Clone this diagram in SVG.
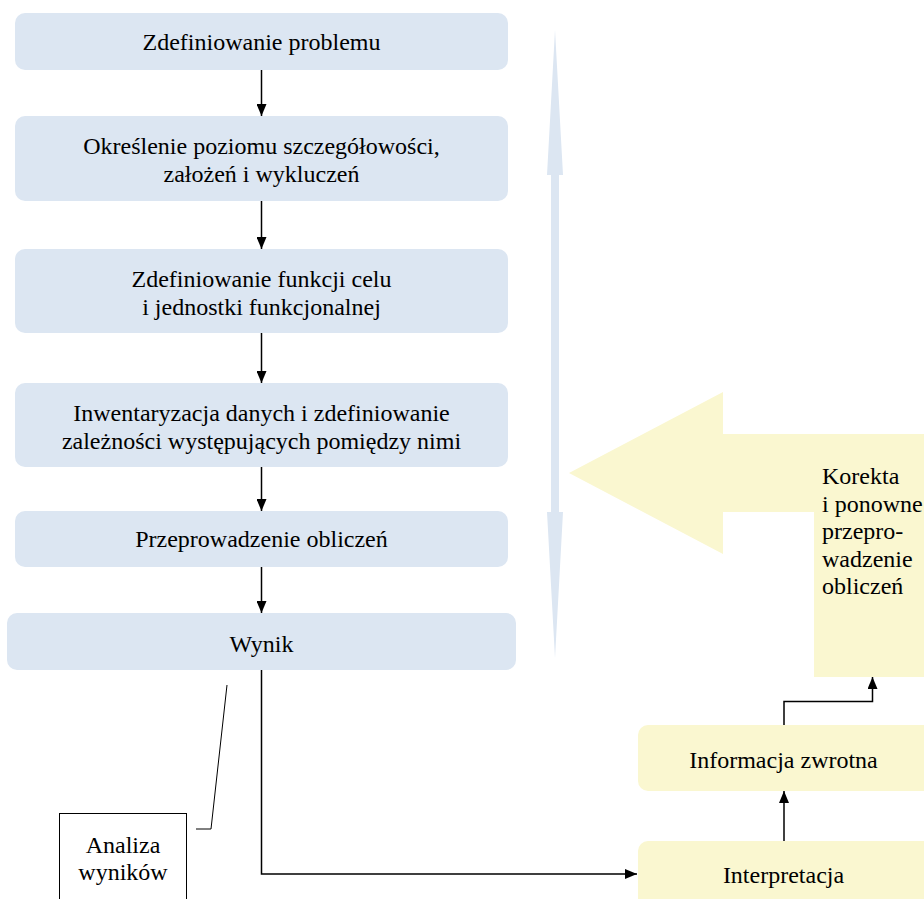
<svg xmlns="http://www.w3.org/2000/svg" width="924" height="899" viewBox="0 0 924 899">
  <style>
    .step { fill: #DCE6F2; }
    .note { fill: #FAF7D0; }
    .wire { fill: none; stroke: #000; stroke-width: 1.5; }
  </style>
  <defs>
    <marker id="head" viewBox="0 0 12 10" refX="12" refY="5" markerWidth="12" markerHeight="10" markerUnits="userSpaceOnUse" orient="auto">
      <path d="M0,0 L12,5 L0,10 Z" fill="#000"/>
    </marker>
  </defs>
  <rect width="924" height="899" fill="#fff"/>

  <g font-family="'Liberation Serif', 'Times New Roman', serif" font-size="24" fill="#000">
    <!-- iteration arrow (double-headed, light blue) -->
    <g id="iteration">
      <polygon class="step" points="555,30 563,175 559,175 559,512 563,512 555,658 547,512 551,512 551,175 547,175"/>
    </g>

    <!-- correction arrow -->
    <g id="correction">
      <polygon class="note" points="569,473 723,392 723,434 924,434 924,677 814,677 814,512 723,512 723,554"/>
      <text x="822" y="484">Korekta</text>
      <text x="822" y="511.5">i ponowne</text>
      <text x="822" y="539">przepro-</text>
      <text x="822" y="566.5">wadzenie</text>
      <text x="822" y="594">obliczeń</text>
    </g>

    <g id="step1" text-anchor="middle">
      <rect class="step" x="15" y="13" width="493" height="57" rx="10"/>
      <text x="261.5" y="50">Zdefiniowanie problemu</text>
    </g>
    <g id="step2" text-anchor="middle">
      <rect class="step" x="15" y="116" width="493" height="85" rx="10"/>
      <text x="261.5" y="154">Określenie poziomu szczegółowości,</text>
      <text x="261.5" y="182">założeń i wykluczeń</text>
    </g>
    <g id="step3" text-anchor="middle">
      <rect class="step" x="15" y="249" width="493" height="84" rx="10"/>
      <text x="261.5" y="287">Zdefiniowanie funkcji celu</text>
      <text x="261.5" y="315">i jednostki funkcjonalnej</text>
    </g>
    <g id="step4" text-anchor="middle">
      <rect class="step" x="15" y="383" width="493" height="84" rx="10"/>
      <text x="261.5" y="421">Inwentaryzacja danych i zdefiniowanie</text>
      <text x="261.5" y="449">zależności występujących pomiędzy nimi</text>
    </g>
    <g id="step5" text-anchor="middle">
      <rect class="step" x="15" y="511" width="493" height="56" rx="10"/>
      <text x="261.5" y="547">Przeprowadzenie obliczeń</text>
    </g>
    <g id="result" text-anchor="middle">
      <rect class="step" x="7" y="613" width="509" height="57" rx="10"/>
      <text x="261.5" y="652">Wynik</text>
    </g>

    <g id="feedback" text-anchor="middle">
      <rect class="note" x="638" y="725" width="300" height="66" rx="10"/>
      <text x="783.5" y="768">Informacja zwrotna</text>
    </g>
    <g id="interpretation" text-anchor="middle">
      <rect class="note" x="638" y="841" width="300" height="80" rx="10"/>
      <text x="783.5" y="883">Interpretacja</text>
    </g>

    <g id="analysis" text-anchor="middle">
      <rect x="59.5" y="813.5" width="127" height="90" fill="#fff" stroke="#000" stroke-width="1"/>
      <text x="123" y="853">Analiza</text>
      <text x="123" y="880">wyników</text>
    </g>
  </g>

  <g id="connectors">
    <line class="wire" x1="261.5" y1="70" x2="261.5" y2="116" marker-end="url(#head)"/>
    <line class="wire" x1="261.5" y1="201" x2="261.5" y2="249" marker-end="url(#head)"/>
    <line class="wire" x1="261.5" y1="333" x2="261.5" y2="383" marker-end="url(#head)"/>
    <line class="wire" x1="261.5" y1="467" x2="261.5" y2="511" marker-end="url(#head)"/>
    <line class="wire" x1="261.5" y1="567" x2="261.5" y2="613" marker-end="url(#head)"/>
    <polyline class="wire" points="261.5,670 261.5,874 637,874" marker-end="url(#head)"/>
    <line class="wire" x1="784" y1="841" x2="784" y2="791" marker-end="url(#head)"/>
    <polyline class="wire" points="784,725 784,701.5 872.5,701.5 872.5,677" marker-end="url(#head)"/>
    <polyline fill="none" stroke="#000" stroke-width="1" points="196,829 211,829 227,685"/>
  </g>
</svg>
